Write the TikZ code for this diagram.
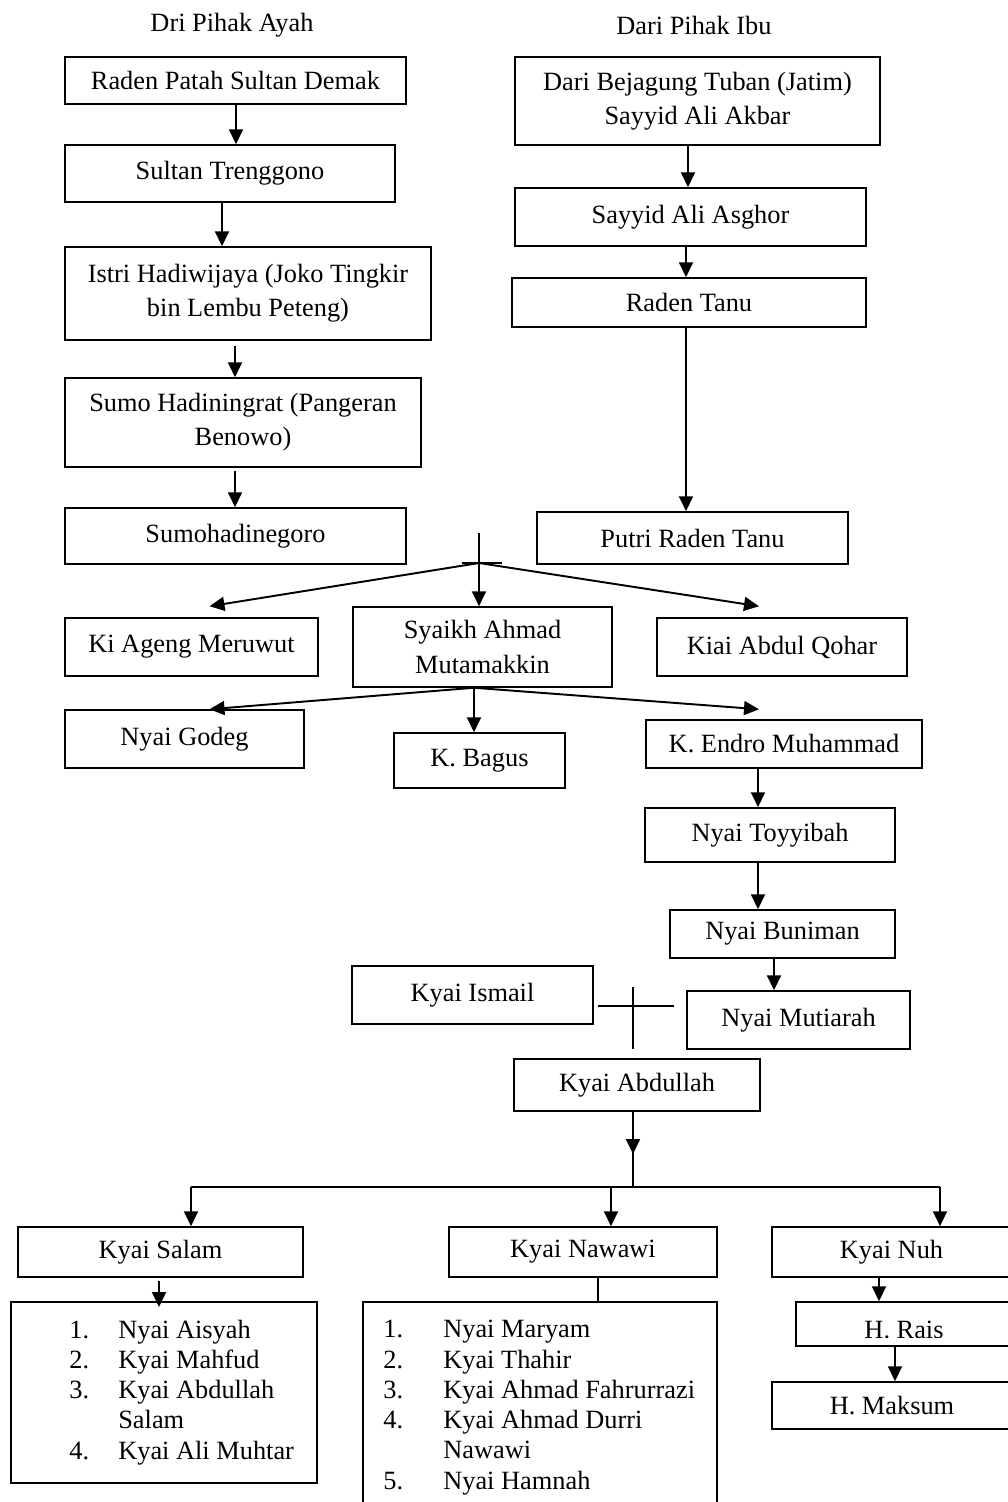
\documentclass[tikz,border=0pt]{standalone}
\usepackage{fontspec}
\setmainfont{Liberation Serif}
\usetikzlibrary{calc,arrows.meta}
\tikzstyle{kotak}=[draw, line width=0.85pt, inner sep=0pt, align=center]
\tikzstyle{panah}=[line width=1.1pt, -{Triangle[length=0.3cm,width=0.28cm]}]
\tikzstyle{garis}=[line width=0.9pt]
\tikzstyle{daftar}=[anchor=base west, align=left, inner sep=0pt, font=\fontsize{15}{17.2}\selectfont]

\begin{document}
\begin{tikzpicture}[x=0.02cm, y=-0.02cm, every node/.style={font=\fontsize{15}{19.4}\selectfont}]
\clip (0,0) rectangle (1008,1502);
\node (judulAyah) at (232,25) {Dri Pihak Ayah};
\node (judulIbu) at (694,25) {Dari Pihak Ibu};
% kotak-kotak: nama/kiri/atas/kanan/bawah/isi
\foreach \nm/\xa/\ya/\xb/\yb/\isi in {
	patah/65/57/406/104/{Raden Patah Sultan Demak},
	treng/65/145/395/202/{Sultan Trenggono},
	istri/65/247/431/340/{Istri Hadiwijaya (Joko Tingkir\\bin Lembu Peteng)},
	sumo/65/378/421/467/{Sumo Hadiningrat (Pangeran\\Benowo)},
	sumohadi/65/508/406/564/{Sumohadinegoro},
	bejagung/515/57/880/145/{Dari Bejagung Tuban (Jatim)\\Sayyid Ali Akbar},
	asghor/515/188/866/246/{Sayyid Ali Asghor},
	tanu/512/278/866/327/{Raden Tanu},
	putri/537/512/848/564/{Putri Raden Tanu},
	meruwut/65/618/318/676/{Ki Ageng Meruwut},
	syaikh/353/607/612/687/{Syaikh Ahmad\\Mutamakkin},
	qohar/657/618/907/676/{Kiai Abdul Qohar},
	godeg/65/710/304/768/{Nyai Godeg},
	bagus/394/733/565/788/{K. Bagus},
	endro/646/720/922/768/{K. Endro Muhammad},
	toyyibah/645/808/895/862/{Nyai Toyyibah},
	buniman/670/910/895/958/{Nyai Buniman},
	ismail/352/966/593/1024/{Kyai Ismail},
	mutiarah/687/991/910/1049/{Nyai Mutiarah},
	abdullah/514/1059/760/1111/{Kyai Abdullah},
	salam/18/1227/303/1277/{Kyai Salam},
	nawawi/449/1227/717/1277/{Kyai Nawawi},
	nuh/772/1227/1011/1277/{Kyai Nuh},
	rais/796/1302/1012/1346/{},
	maksum/772/1382/1012/1429/{H. Maksum},
	anakSalam/11/1302/317/1483/{},
	anakNawawi/363/1302/717/1530/{}} {
	\pgfmathsetmacro\lebar{(\xb-\xa)*0.02}
	\pgfmathsetmacro\tinggi{(\yb-\ya)*0.02}
	\node[kotak, minimum width=\lebar cm, minimum height=\tinggi cm] (\nm) at ({(\xa+\xb)/2},{(\ya+\yb)/2}) {\isi};
}
\begin{scope}
\clip (796,1302) rectangle (1008,1337);
\node[anchor=base] (teksRais) at (904,1338) {H. Rais};
\end{scope}
\node[daftar] (isiSalam) at (69,1459) {\makebox[0.98cm][l]{1.}Nyai Aisyah\\
	\makebox[0.98cm][l]{2.}Kyai Mahfud\\
	\makebox[0.98cm][l]{3.}Kyai Abdullah\\
	\hspace*{0.98cm}Salam\\
	\makebox[0.98cm][l]{4.}Kyai Ali Muhtar};
\node[daftar] (isiNawawi) at (383,1489) {\makebox[1.2cm][l]{1.}Nyai Maryam\\
	\makebox[1.2cm][l]{2.}Kyai Thahir\\
	\makebox[1.2cm][l]{3.}Kyai Ahmad Fahrurrazi\\
	\makebox[1.2cm][l]{4.}Kyai Ahmad Durri\\
	\hspace*{1.2cm}Nawawi\\
	\makebox[1.2cm][l]{5.}Nyai Hamnah};
% pihak ayah
\draw[panah] (236,0 |- patah.south) -- (236,0 |- treng.north);
\draw[panah] (222,0 |- treng.south) -- (222,0 |- istri.north);
\draw[panah] (235,346) -- (235,0 |- sumo.north);
\draw[panah] (235,471) -- (235,0 |- sumohadi.north);
% pihak ibu
\draw[panah] (688,0 |- bejagung.south) -- (688,0 |- asghor.north);
\draw[panah] (686,0 |- asghor.south) -- (686,0 |- tanu.north);
\draw[panah] (686,0 |- tanu.south) -- (686,0 |- putri.north);
% pernikahan
\coordinate (nikah) at (479,563);
\draw[garis] (462,563) -- (502,563);
\draw[panah] (479,533) -- (479,0 |- syaikh.north);
\draw[panah] (nikah) -- ([shift={(18,-11)}]meruwut.north);
\draw[panah] (nikah) -- ([shift={(-23,-11)}]qohar.north);
\coordinate (syaikhBawah) at (474,0 |- syaikh.south);
\draw[panah] (syaikhBawah) -- ([shift={(25,0)}]godeg.north);
\draw[panah] (syaikhBawah) -- (474,0 |- bagus.north);
\draw[panah] (syaikhBawah) -- ([shift={(-25,-10)}]endro.north);
\draw[panah] (758,0 |- endro.south) -- (758,0 |- toyyibah.north);
\draw[panah] (758,0 |- toyyibah.south) -- (758,0 |- buniman.north);
\draw[panah] (774,0 |- buniman.south) -- (774,0 |- mutiarah.north);
% Kyai Ismail - Nyai Mutiarah
\draw[line width=0.6pt] (598,1006) -- (674,1006);
\draw[line width=0.6pt] (633,987) -- (633,1049);
\draw[panah] (633,0 |- abdullah.south) -- (633,1154);
\coordinate (cabang) at (633,1187);
\draw[garis] (633,1150) -- (cabang);
\draw[garis] (191,1187) -- (940,1187);
\draw[panah] (191,1187) -- (191,0 |- salam.north);
\draw[panah] (611,1187) -- (611,0 |- nawawi.north);
\draw[panah] (940,1187) -- (940,0 |- nuh.north);
\draw[panah] (159,1281) -- (159,1307);
\draw[garis] (598,0 |- nawawi.south) -- (598,0 |- anakNawawi.north);
\draw[panah] (879,0 |- nuh.south) -- (879,0 |- rais.north);
\draw[panah] (895,0 |- rais.south) -- (895,0 |- maksum.north);
\end{tikzpicture}
\end{document}
